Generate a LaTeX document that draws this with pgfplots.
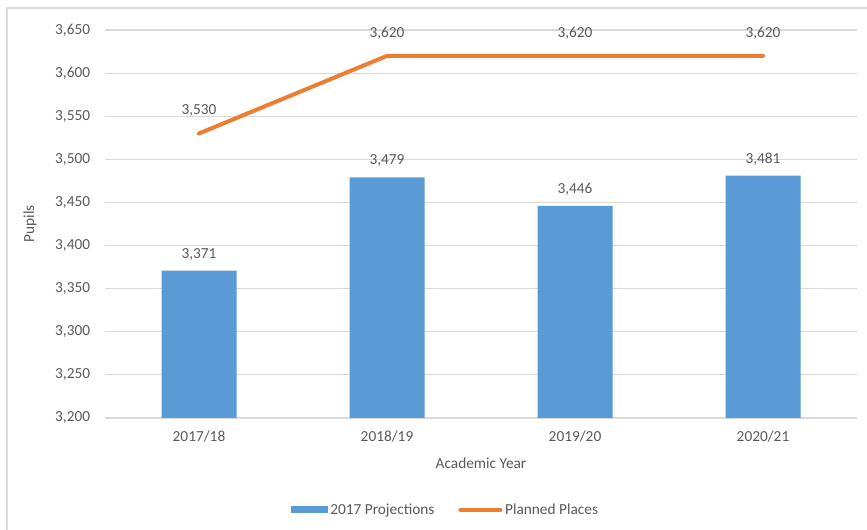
\documentclass[border=0pt]{standalone}
\usepackage{pgfplots}
\pgfplotsset{compat=1.18}
\usepackage{fontspec}
\setmainfont{Carlito}
\definecolor{barblue}{HTML}{5B9BD5}
\definecolor{lineorange}{HTML}{ED7D31}
\definecolor{txtgray}{HTML}{595959}
\definecolor{gridgray}{HTML}{D9D9D9}
\begin{document}
\begin{tikzpicture}
\useasboundingbox (0,0) rectangle (650.25pt,397.5pt);
\draw[gridgray, line width=1.2pt] (5.25pt,-5pt) -- (5.25pt,391.5pt) -- (660pt,391.5pt);
\begin{axis}[
  at={(78.75pt,84pt)}, anchor=south west,
  scale only axis, width=564pt, height=291pt,
  xmin=-0.5, xmax=3.5, ymin=3200, ymax=3650,
  xtick={0,1,2,3},
  xticklabels={2017/18,2018/19,2019/20,2020/21},
  ytick={3200,3250,...,3650},
  ymajorgrids, grid style={gridgray, line width=0.8pt},
  axis line style={draw=none},
  major tick length=0pt,
  font=\fontsize{11.5}{13}\selectfont,
  every tick label/.append style={text=txtgray},
  /pgf/number format/.cd, 1000 sep={,}, assume math mode=true,
  /pgfplots/.cd,
  yticklabel style={anchor=east, inner sep=0pt, xshift=-11pt},
  xticklabel style={anchor=center, inner sep=0pt, yshift=-14pt},
  xlabel={Academic Year},
  ylabel={Pupils},
  label style={text=txtgray},
  xlabel style={at={(axis description cs:0.5,-0.116)}, anchor=center},
  ylabel style={at={(axis description cs:-0.0997,0.5)}, anchor=center, rotate=0},
  legend style={at={(0.453,-0.237)}, anchor=center, draw=none, legend columns=2,
    font=\fontsize{11.5}{13}\selectfont, text=txtgray,
    /tikz/every even column/.append style={column sep=16pt}},
  clip=false,
]
\addplot[ybar, bar width=56.25pt, fill=barblue, draw=none,
  nodes near coords, every node near coord/.append style={anchor=center, yshift=12.4pt, text=txtgray, font=\fontsize{11.5}{13}\selectfont},
  legend image code/.code={\fill[barblue] (0pt,-2.6pt) rectangle (27.75pt,2.6pt);}]
  coordinates {(0,3371) (1,3479) (2,3446) (3,3481)};
\addlegendentry{2017 Projections}
\addplot[lineorange, line width=3pt, line cap=round, line join=round, mark=none,
  nodes near coords, every node near coord/.append style={anchor=center, yshift=17pt, text=txtgray, font=\fontsize{11.5}{13}\selectfont},
  legend image code/.code={\draw[lineorange, line width=3pt, line cap=round] (0pt,0pt) -- (30pt,0pt);}]
  coordinates {(0,3530) (1,3620) (2,3620) (3,3620)};
\addlegendentry{Planned Places}
\end{axis}
\end{tikzpicture}
\end{document}
